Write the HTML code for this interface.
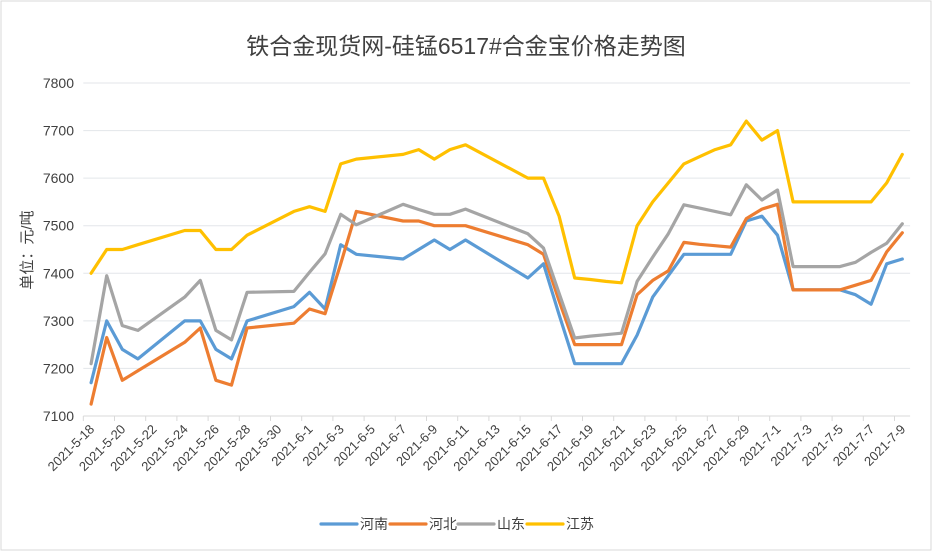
<!DOCTYPE html>
<html><head><meta charset="utf-8">
<style>
body{margin:0;background:#fff;}
svg{display:block;font-family:"Liberation Sans","Noto Sans CJK SC",sans-serif;}
</style></head>
<body>
<svg id="chart" width="933" height="552">
<rect x="1" y="1" width="930" height="549" fill="#fff" stroke="#d9d9d9"/>
<text x="466" y="54" text-anchor="middle" font-size="23" fill="#404040">铁合金现货网-硅锰6517#合金宝价格走势图</text>
<text transform="translate(32,250) rotate(-90)" text-anchor="middle" font-size="15" fill="#404040">单位：元/吨</text>
<g id="grid"></g><g id="xlabels"></g><g id="ylabels"></g><g id="series"></g>
<g id="legend"></g>
</svg>
<script>
const days = [0,1,2,3,6,7,8,9,10,13,14,15,16,17,20,21,22,23,24,28,29,30,31,32,33,34,35,36,37,38,39,40,41,42,43,44,45,48,49,50,51,52];
const henan = [7170,7300,7240,7220,7300,7300,7240,7220,7300,7330,7360,7325,7460,7440,7430,7450,7470,7450,7470,7390,7420,7313,7210,7210,7210,7210,7270,7350,7395,7440,7440,7440,7440,7510,7520,7480,7365,7365,7355,7335,7420,7430];
const hebei = [7125,7265,7175,7195,7255,7285,7175,7165,7285,7295,7325,7315,7420,7530,7510,7510,7500,7500,7500,7460,7440,7342,7250,7250,7250,7250,7355,7385,7405,7465,7461,7458,7455,7515,7535,7545,7365,7365,7375,7385,7445,7485];
const shandong = [7210,7395,7290,7280,7350,7385,7280,7260,7360,7362,7402,7441,7524,7502,7545,7534,7524,7524,7535,7483,7453,7358,7264,7268,7271,7274,7383,7434,7483,7544,7537,7530,7523,7586,7554,7575,7414,7414,7423,7444,7463,7504];
const jiangsu = [7400,7450,7450,7460,7490,7490,7450,7450,7480,7530,7540,7530,7630,7640,7650,7660,7640,7660,7670,7600,7600,7520,7390,7387,7383,7380,7500,7550,7590,7630,7645,7660,7670,7720,7680,7700,7550,7550,7550,7550,7590,7650];
const yTicks = [7100,7200,7300,7400,7500,7600,7700,7800];
const xTickLabels = ["2021-5-18","2021-5-20","2021-5-22","2021-5-24","2021-5-26","2021-5-28","2021-5-30","2021-6-1","2021-6-3","2021-6-5","2021-6-7","2021-6-9","2021-6-11","2021-6-13","2021-6-15","2021-6-17","2021-6-19","2021-6-21","2021-6-23","2021-6-25","2021-6-27","2021-6-29","2021-7-1","2021-7-3","2021-7-5","2021-7-7","2021-7-9"];
const seriesNames = ["河南","河北","山东","江苏"];
const seriesColors = ["#5b9bd5","#ed7d31","#a5a5a5","#ffc000"];

const NS="http://www.w3.org/2000/svg";
const X0=83.3, DAY=15.6, Y0=416, Y1=83, VMIN=7100, VMAX=7800;
function xs(d){return X0+DAY*(d+0.5);}
function ys(v){return Y0-(v-VMIN)/(VMAX-VMIN)*(Y0-Y1);}
function mk(tag,attrs,parent){const e=document.createElementNS(NS,tag);for(const k in attrs)e.setAttribute(k,attrs[k]);parent.appendChild(e);return e;}
const grid=document.getElementById('grid'), yl=document.getElementById('ylabels'), xl=document.getElementById('xlabels'), sg=document.getElementById('series'), lg=document.getElementById('legend');
const XEND=X0+DAY*53;
yTicks.forEach(v=>{
  const l=mk('line',{x1:X0,x2:XEND,y1:ys(v),y2:ys(v),stroke:v===VMIN?'#d9d9d9':'#e3e6ea','stroke-width':1},grid);
  
  
  const t=mk('text',{x:74,y:ys(v)+5,'text-anchor':'end','font-size':14,fill:'#404040'},yl);
  t.textContent=v;
  
  
});
xTickLabels.forEach((s,i)=>{
  const d=i*2;
  const tk=mk('line',{x1:X0+DAY*d,x2:X0+DAY*d,y1:Y0,y2:Y0+5,stroke:'#d9d9d9'},grid);
  
  
  const cx=xs(d)+4, cy=Y0+14;
  const t=mk('text',{x:cx,y:cy,'text-anchor':'end','font-size':13,fill:'#404040',transform:`rotate(-45 ${cx} ${cy})`},xl);
  t.textContent=s;
  
  
});
[henan,hebei,shandong,jiangsu].forEach((vals,si)=>{
  const pts=vals.map((v,i)=>xs(days[i]).toFixed(1)+','+ys(v).toFixed(1)).join(' ');
  const p=mk('polyline',{points:pts,fill:'none',stroke:seriesColors[si],'stroke-width':3.2,'stroke-linejoin':'round','stroke-linecap':'round'},sg);
  
  
});
const lx=[321,390,458,527];
seriesNames.forEach((n,i)=>{
  const l=mk('line',{x1:lx[i],x2:lx[i]+36,y1:524,y2:524,stroke:seriesColors[i],'stroke-width':3.2,'stroke-linecap':'round'},lg);
  
  
  const t=mk('text',{x:lx[i]+39,y:529,'font-size':14,fill:'#404040'},lg);
  t.textContent=n;
  
  
});
</script>
</body></html>
